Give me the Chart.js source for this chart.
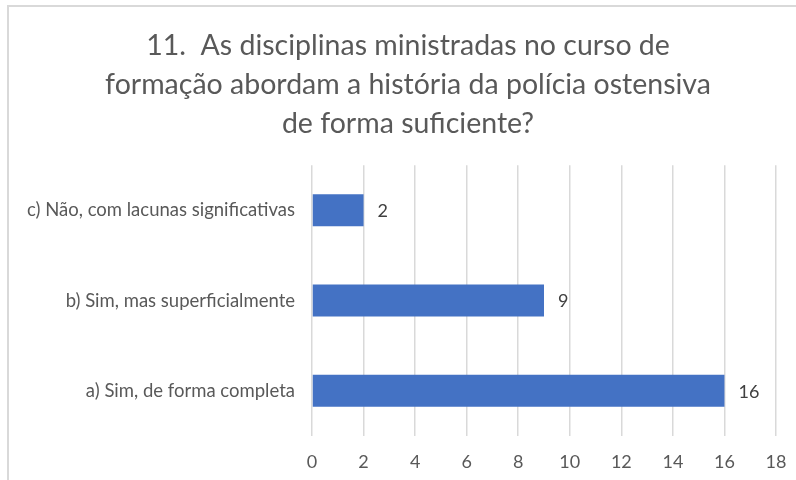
<!DOCTYPE html>
<html>
<head>
<meta charset="utf-8">
<script src="https://cdn.jsdelivr.net/npm/chart.js@4/dist/chart.umd.min.js"></script>
<style>
  html, body { margin: 0; padding: 0; overflow: hidden; background: #fff; }
  body { width: 796px; height: 480px; position: relative; }
  #chart { position: absolute; left: 0; top: 0; }
</style>
</head>
<body>
<canvas id="chart" width="816" height="480"></canvas>
<script>
// DATA
const titleLines = [
  "11.  As disciplinas ministradas no curso de",
  "formação abordam a história da polícia ostensiva",
  "de forma suficiente?"
];
const categories = [
  "c) Não, com lacunas significativas",
  "b) Sim, mas superficialmente",
  "a) Sim, de forma completa"
];
const counts = [2, 9, 16];
const axisMin = 0;
const axisMax = 18;
const axisStep = 2;

const FONT = "Lato, 'Open Sans', sans-serif";

// white background and the chart frame (top and left edges visible)
const frame = {
  id: "frame",
  beforeDraw(chart) {
    const ctx = chart.ctx;
    ctx.save();
    ctx.fillStyle = "#fff";
    ctx.fillRect(0, 0, chart.width, chart.height);
    ctx.strokeStyle = "#d9d9d9";
    ctx.lineWidth = 2;
    ctx.beginPath();
    ctx.moveTo(8, chart.height + 5);
    ctx.lineTo(8, 6);
    ctx.lineTo(chart.width + 5, 6);
    ctx.stroke();
    ctx.restore();
  }
};

// value labels at the end of each bar
const barLabels = {
  id: "barLabels",
  afterDatasetsDraw(chart) {
    const ctx = chart.ctx;
    const meta = chart.getDatasetMeta(0);
    ctx.save();
    ctx.font = "18px " + FONT;
    ctx.fillStyle = "#404040";
    ctx.textBaseline = "middle";
    ctx.textAlign = "left";
    meta.data.forEach((bar, i) => {
      ctx.fillText(String(counts[i]), bar.x + 14, bar.y + 1);
    });
    ctx.restore();
  }
};

const ctx = document.getElementById("chart").getContext("2d");

new Chart(ctx, {
  type: "bar",
  data: {
    labels: categories,
    datasets: [{
      data: counts,
      backgroundColor: "#4472C4",
      borderWidth: 0,
      categoryPercentage: 1,
      barPercentage: 0.354
    }]
  },
  options: {
    indexAxis: "y",
    responsive: false,
    animation: false,
    layout: { padding: { left: 0, right: 0, top: 6, bottom: 0 } },
    plugins: {
      legend: { display: false },
      tooltip: { enabled: false },
      title: {
        display: true,
        text: titleLines,
        color: "#595959",
        font: { family: FONT, size: 28.5, weight: "normal", lineHeight: 1.37 },
        padding: { top: 20, bottom: 22 }
      }
    },
    scales: {
      x: {
        min: axisMin,
        max: axisMax,
        afterFit(scale) { scale.height = 44; },
        ticks: {
          stepSize: axisStep,
          color: "#595959",
          font: { family: FONT, size: 18 },
          padding: 15
        },
        grid: { color: "#d9d9d9", lineWidth: 1.5, drawTicks: false },
        border: { display: false }
      },
      y: {
        afterFit(scale) { scale.width = 312; },
        ticks: {
          color: "#595959",
          font: { family: FONT, size: 18.5 },
          padding: 17
        },
        grid: { display: false, drawTicks: false },
        border: { display: false }
      },
      // empty spacer on the right so the plot ends where the reference does
      yRight: {
        type: "category",
        position: "right",
        afterFit(scale) { scale.width = 40; },
        ticks: { display: false },
        grid: { display: false, drawTicks: false },
        border: { display: false }
      }
    }
  },
  plugins: [frame, barLabels]
});
</script>
</body>
</html>
